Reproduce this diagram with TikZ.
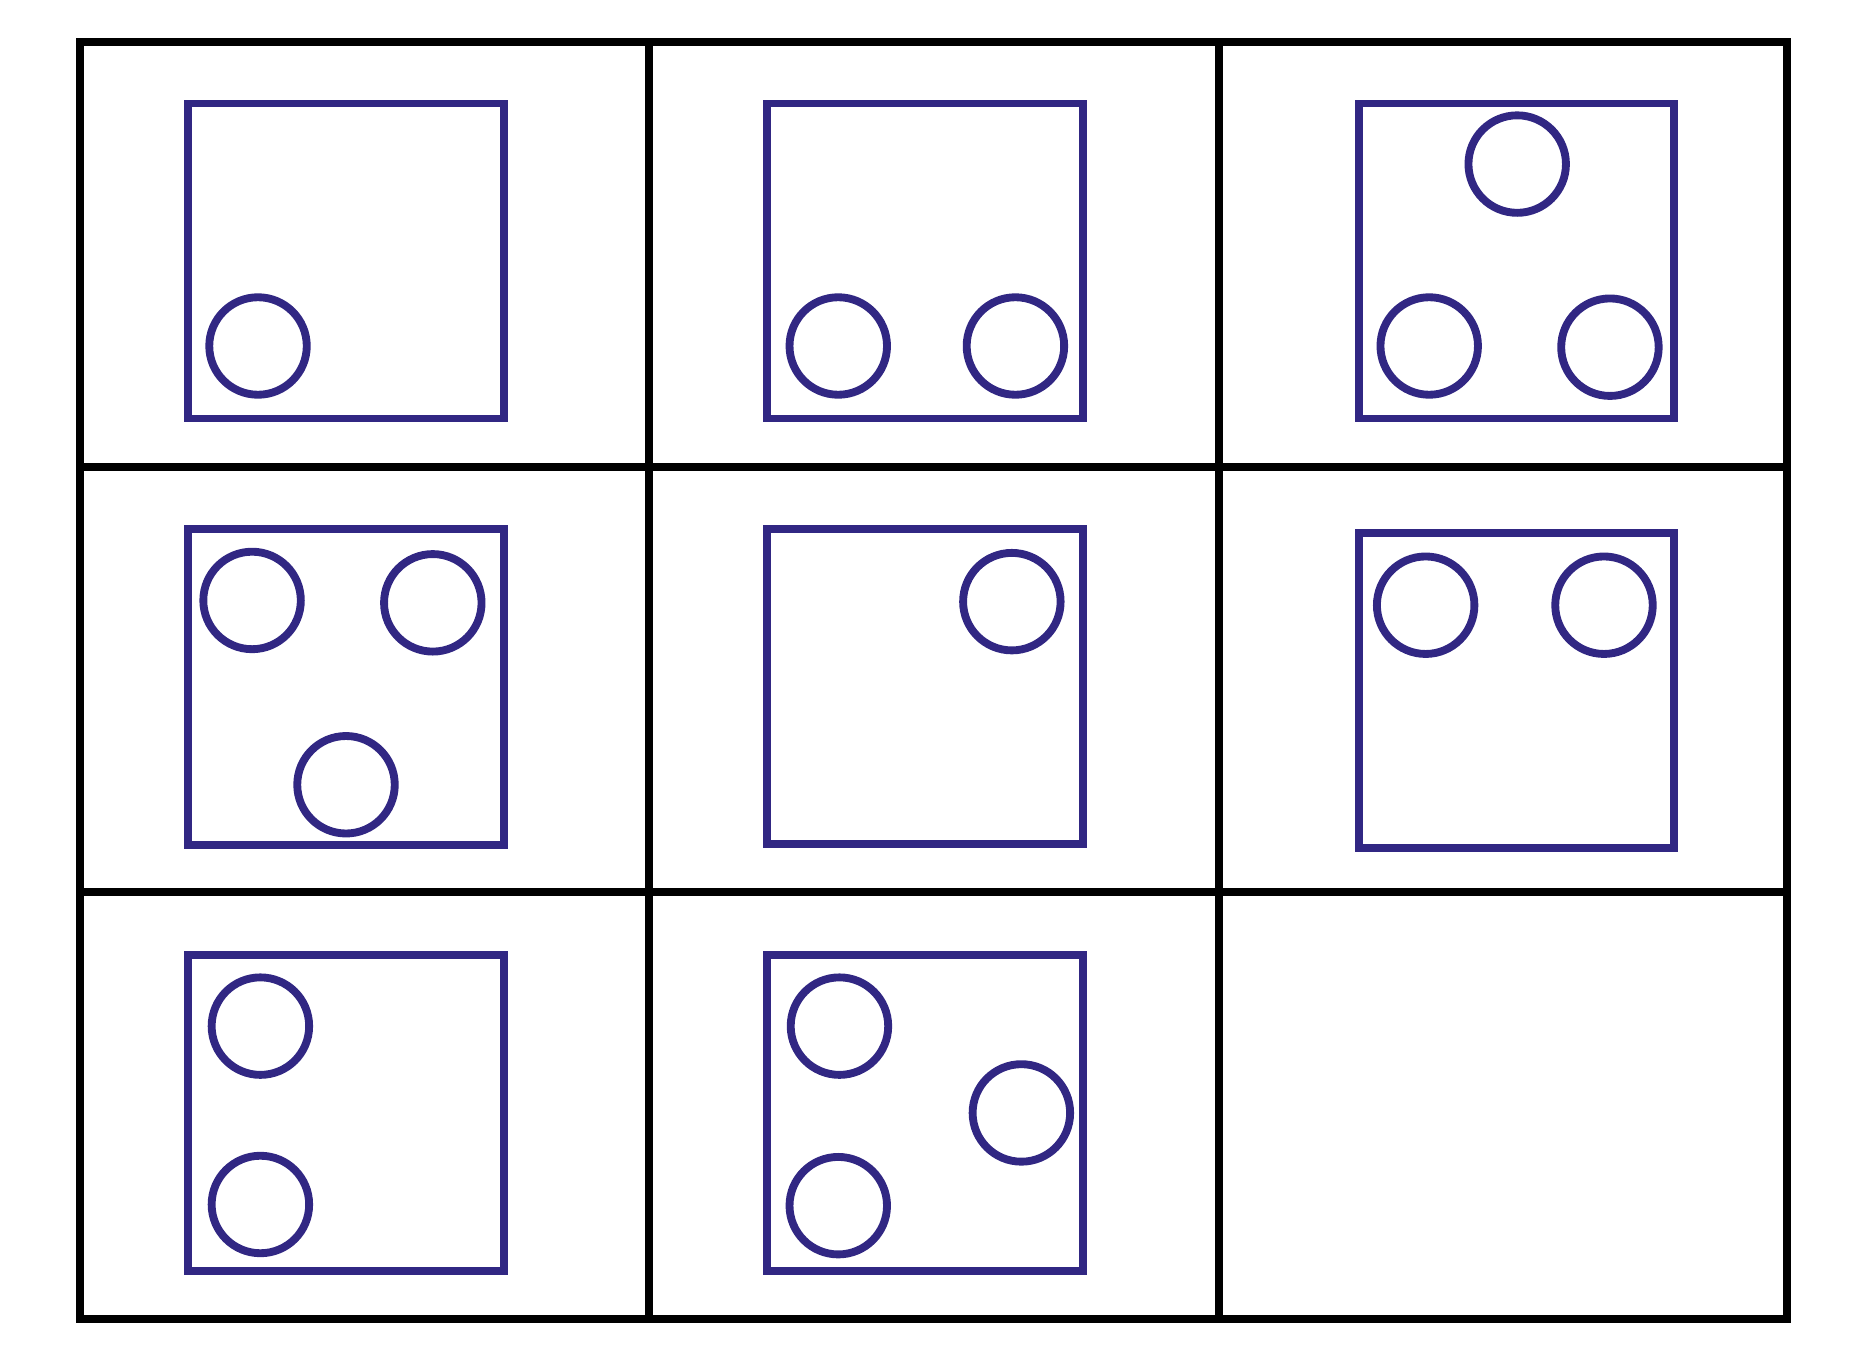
\documentclass[tikz,border=0pt]{standalone}
\definecolor{dotblue}{RGB}{49,39,131}
\begin{document}
\begin{tikzpicture}[x=0.01cm,y=-0.01cm,
    grid/.style={line width=0.068cm,draw=black},
    card/.style={line width=0.066cm,draw=dotblue}]
      \useasboundingbox (0,0) rectangle (1568.5,1147.2);
      % the three by three frame
      \draw[grid] (67,35) rectangle (1503,1109);
      \draw[grid] (546,35) -- (546,1109);
      \draw[grid] (1025,35) -- (1025,1109);
      \draw[grid] (67,393) -- (1503,393);
      \draw[grid] (67,750) -- (1503,750);
      % first row
      \draw[card] (158,87) rectangle (424,352);
      \draw[card] (217,291) circle[radius=41];
      \draw[card] (645,87) rectangle (911,352);
      \draw[card] (705,291) circle[radius=41];
      \draw[card] (854,291) circle[radius=41];
      \draw[card] (1143,87) rectangle (1408,352);
      \draw[card] (1276,138) circle[radius=41];
      \draw[card] (1202,291) circle[radius=41];
      \draw[card] (1354,292) circle[radius=41];
      % second row
      \draw[card] (158,445) rectangle (424,711);
      \draw[card] (212,505) circle[radius=41];
      \draw[card] (364,507) circle[radius=41];
      \draw[card] (291,660) circle[radius=41];
      \draw[card] (645,445) rectangle (911,710);
      \draw[card] (851,506) circle[radius=41];
      \draw[card] (1143,448) rectangle (1408,713);
      \draw[card] (1199,509) circle[radius=41];
      \draw[card] (1349,509) circle[radius=41];
      % third row
      \draw[card] (158,803) rectangle (424,1069);
      \draw[card] (219,863) circle[radius=41];
      \draw[card] (219,1013) circle[radius=41];
      \draw[card] (645,803) rectangle (911,1069);
      \draw[card] (706,863) circle[radius=41];
      \draw[card] (859,936) circle[radius=41];
      \draw[card] (705,1014) circle[radius=41];
    \end{tikzpicture}
\end{document}
